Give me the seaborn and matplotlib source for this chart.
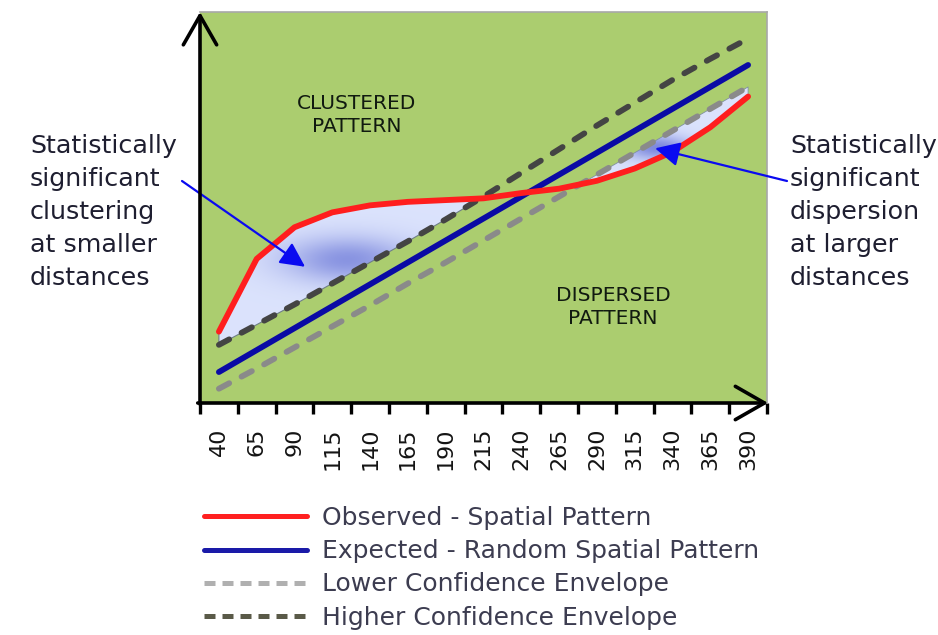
import numpy as np
import pandas as pd
import matplotlib
matplotlib.use("Agg")
import matplotlib.pyplot as plt
from matplotlib.lines import Line2D
from matplotlib.path import Path
import seaborn as sns

# Distance bands and K-function style values
distances = [40, 65, 90, 115, 140, 165, 190, 215, 240, 265, 290, 315, 340, 365, 390]
observed = [86, 169, 205, 222, 230, 234, 236, 238, 244, 249, 258, 272, 291, 319, 354]
expected = [40, 65, 90, 115, 140, 165, 190, 215, 240, 265, 290, 315, 340, 365, 390]
lower_env = [21, 44, 68, 92, 116, 141, 165, 190, 215, 240, 265, 290, 315, 340, 365]
upper_env = [71, 94, 117, 141, 165, 189, 214, 240, 267, 294, 321, 347, 373, 397, 420]

tick_labels = [str(d) for d in distances]
legend_labels = ["Observed - Spatial Pattern", "Expected - Random Spatial Pattern",
                 "Lower Confidence Envelope", "Higher Confidence Envelope"]

sns.set_style("white")
plt.rcParams["font.family"] = ["DejaVu Sans"]

W, H = 938, 635
fig = plt.figure(figsize=(W / 100, H / 100), dpi=100)
ax = fig.add_axes([200 / W, 1 - 403 / H, 567 / W, 391 / H])
ax.set_facecolor("#abcd6f")

pos = np.arange(len(distances))
df = pd.DataFrame({"pos": pos, "observed": observed, "expected": expected,
                   "lower": lower_env, "upper": upper_env})

XLIM = (-0.5, 14.5)
YLIM = (4.7, 450.4)

# Significance regions between the observed curve and the envelopes
obs = np.array(observed, float)
up = np.array(upper_env, float)
lo = np.array(lower_env, float)
clust = ax.fill_between(pos, obs, up, where=obs >= up, interpolate=True,
                        facecolor="none", edgecolor="#6f7f86", lw=0.8, zorder=2.2)
disp = ax.fill_between(pos, obs, lo, where=obs <= lo, interpolate=True,
                       facecolor="none", edgecolor="#8090a0", lw=0.6, zorder=2.2)


def shade(poly, cx, cy, sx, sy, strength):
    xs = np.linspace(XLIM[0], XLIM[1], 500)
    ys = np.linspace(YLIM[0], YLIM[1], 500)
    X, Y = np.meshgrid(xs, ys)
    g = np.exp(-(((X - cx) / sx) ** 2 + ((Y - cy) / sy) ** 2)) * strength
    light = np.array([0.86, 0.89, 0.99])
    deep = np.array([0.40, 0.45, 0.84])
    rgb = light + (deep - light) * g[..., None]
    im = ax.imshow(rgb, extent=(XLIM[0], XLIM[1], YLIM[0], YLIM[1]), origin="lower",
                   aspect="auto", zorder=2.0, interpolation="bilinear")
    path = Path.make_compound_path(*poly.get_paths())
    im.set_clip_path(path, ax.transData)


shade(clust, 3.4, 168, 1.7, 26, 0.7)
shade(disp, 11.6, 296, 0.9, 14, 0.8)

# Series lines
sns.lineplot(data=df, x="pos", y="lower", ax=ax, color="#8a8a8a", lw=4.2,
             linestyle=(0, (2.0, 2.4)), dash_capstyle="round", zorder=3, legend=False)
sns.lineplot(data=df, x="pos", y="upper", ax=ax, color="#444444", lw=4.2,
             linestyle=(0, (2.0, 2.4)), dash_capstyle="round", zorder=3, legend=False)
sns.lineplot(data=df, x="pos", y="expected", ax=ax, color="#0a0aa5", lw=4.2,
             solid_capstyle="round", zorder=4, legend=False)
sns.lineplot(data=df, x="pos", y="observed", ax=ax, color="#ff1e1e", lw=4.2,
             solid_capstyle="round", solid_joinstyle="round", zorder=5, legend=False)

ax.set_xlim(*XLIM)
ax.set_ylim(*YLIM)
ax.set_xlabel("")
ax.set_ylabel("")

# Category axis: tick marks between bands, labels centred on bands
ax.set_xticks(np.arange(-0.5, 15, 1.0))
ax.set_xticklabels([])
ax.set_xticks(pos, minor=True)
ax.set_xticklabels(tick_labels, minor=True, rotation=90, fontsize=16, color="#141414")
ax.tick_params(axis="x", which="major", length=8, width=2.4, color="black",
               direction="out", bottom=True)
ax.tick_params(axis="x", which="minor", length=0, pad=18)
ax.set_yticks([])

for side in ("left", "bottom"):
    ax.spines[side].set_visible(False)
for side in ("top", "right"):
    ax.spines[side].set_color("#a8a8a8")
    ax.spines[side].set_linewidth(1.2)

# Arrowed axes
arrow_kw = dict(arrowstyle="->,head_length=1.05,head_width=0.6", lw=2.6,
                color="black", mutation_scale=20, shrinkA=0, shrinkB=0)
ax.annotate("", xy=(0, 1.0), xytext=(0, -0.003), xycoords="axes fraction",
            arrowprops=arrow_kw, annotation_clip=False, zorder=10)
ax.annotate("", xy=(1.002, 0), xytext=(-0.004, 0), xycoords="axes fraction",
            arrowprops=arrow_kw, annotation_clip=False, zorder=10)

# Region labels
region_kw = dict(fontsize=14.5, color="#111a10", ha="center", va="center",
                 linespacing=1.25)
fig.text(357 / W, 1 - 115 / H, "CLUSTERED\nPATTERN", **region_kw)
fig.text(613 / W, 1 - 307 / H, "DISPERSED\nPATTERN", **region_kw)

# Callouts
note_kw = dict(fontsize=18.3, color="#1e1e30", ha="left", va="top", linespacing=1.47)
fig.text(30 / W, 1 - 134 / H,
         "Statistically\nsignificant\nclustering\nat smaller\ndistances", **note_kw)
fig.text(790 / W, 1 - 134 / H,
         "Statistically\nsignificant\ndispersion\nat larger\ndistances", **note_kw)

callout_kw = dict(arrowstyle="-|>,head_length=1.0,head_width=0.5", lw=1.6,
                  color="#0a0af0", mutation_scale=15, shrinkA=0, shrinkB=0)
ax.annotate("", xy=(2.28, 160), xycoords="data",
            xytext=(182 / W, 1 - 181 / H), textcoords="figure fraction",
            arrowprops=callout_kw, annotation_clip=False, zorder=8)
ax.annotate("", xy=(11.54, 295), xycoords="data",
            xytext=(787 / W, 1 - 181 / H), textcoords="figure fraction",
            arrowprops=callout_kw, annotation_clip=False, zorder=8)

# Legend below the chart
handles = [
    Line2D([], [], color="#ff2020", lw=3.6),
    Line2D([], [], color="#1a1aa8", lw=3.6),
    Line2D([], [], color="#b0b0b0", lw=3.6, linestyle=(0, (2.2, 1.4))),
    Line2D([], [], color="#5a5a48", lw=3.6, linestyle=(0, (2.2, 1.4))),
]
fig.legend(handles, legend_labels, loc="upper left",
           bbox_to_anchor=(204 / W, 1 - 506 / H), frameon=False, fontsize=18,
           handlelength=4.1, handletextpad=0.6, labelspacing=0.37, borderpad=0,
           borderaxespad=0, labelcolor="#3c3c50")

fig.savefig("out.png", dpi=100)
